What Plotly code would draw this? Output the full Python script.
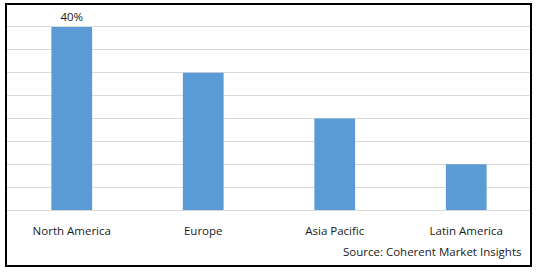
import plotly.graph_objects as go

regions = ["North America", "Europe", "Asia Pacific", "Latin America"]
shares = [40, 30, 20, 10]
labels = ["40%", "", "", ""]
source = "Source: Coherent Market Insights"

W, H = 538, 272
L, R, T, B = 6, 6, 4, 62
pw, ph = W - L - R, H - T - B

fig = go.Figure(go.Bar(
    x=regions, y=shares, text=labels, textposition="outside",
    marker=dict(color="#5B9BD5", line=dict(width=0)),
    textfont=dict(size=11.5, color="#1a1a1a", family="Open Sans"),
    cliponaxis=False,
))
fig.update_layout(
    width=W, height=H, margin=dict(l=L, r=R, t=T, b=B),
    paper_bgcolor="white", plot_bgcolor="white",
    bargap=0.69, showlegend=False,
    font=dict(family="Open Sans", size=11.5, color="#1a1a1a"),
    xaxis=dict(showgrid=False, showline=False, zeroline=False,
               tickfont=dict(size=11.5), ticklabelstandoff=12),
    yaxis=dict(range=[0, 45], dtick=5, showticklabels=False,
               showgrid=True, gridcolor="#D9D9D9", gridwidth=1,
               zeroline=True, zerolinecolor="#D9D9D9", zerolinewidth=1),
)
fig.add_annotation(text=source, xref="paper", yref="paper",
                   x=(523 - L) / pw, y=-(252 - (T + ph)) / ph,
                   xanchor="right", yanchor="middle", showarrow=False,
                   font=dict(size=11.5, color="#1a1a1a"))
fig.add_shape(type="rect", xref="paper", yref="paper",
              x0=0, x1=(531 - L) / pw, y0=-(266 - (T + ph)) / ph, y1=1,
              line=dict(color="black", width=2))
fig.write_html("out.html")
